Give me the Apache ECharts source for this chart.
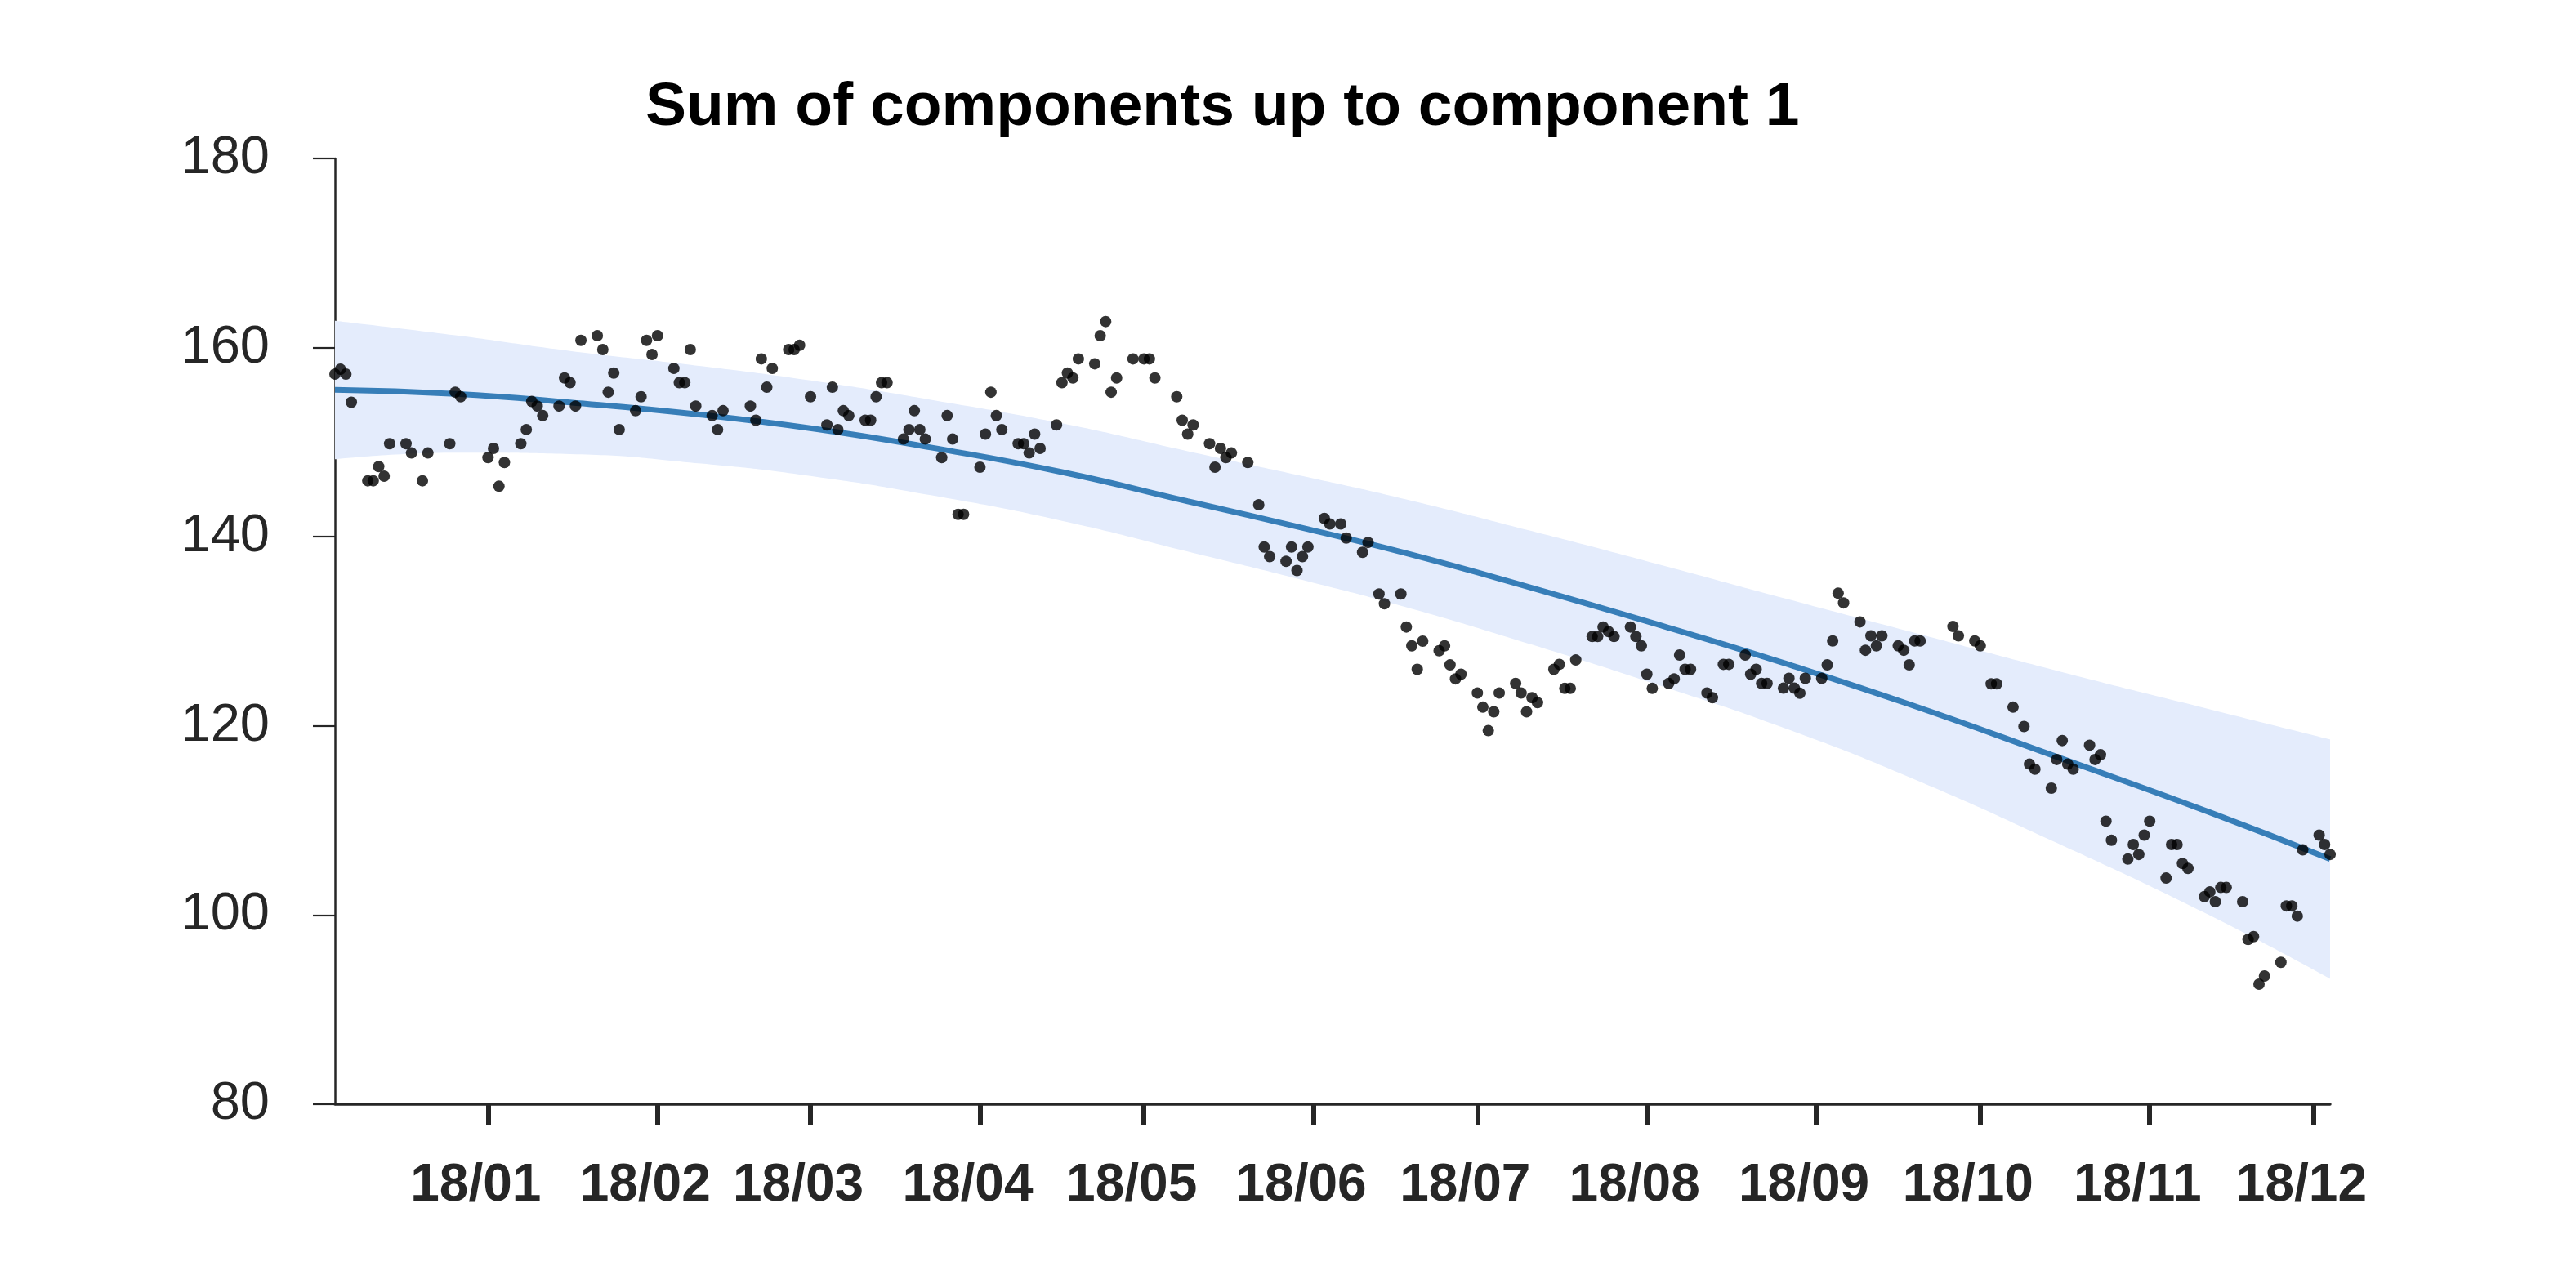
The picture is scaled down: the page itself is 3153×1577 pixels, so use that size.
<!DOCTYPE html>
<html>
<head>
<meta charset="utf-8">
<script src="https://cdn.jsdelivr.net/npm/echarts@6/dist/echarts.min.js"></script>
<style>
html,body{margin:0;padding:0;background:#fff;}
#chart{width:3153px;height:1577px;}
</style>
</head>
<body>
<div id="chart"></div>
<script>
// Day offsets from 2018-01-01 (as placed on the time axis) and observed values
const dayOffsets = [
-28,-27,-26,-25,-22,-21,-20,-19,-18,-15,-14,-12,-11,-7,-6,-5,
0,1,2,3,6,7,8,9,10,13,14,15,16,17,20,21,22,23,24,27,28,29,30,31,
34,35,36,37,38,41,42,43,48,49,50,51,52,55,56,57,59,
62,63,64,65,66,69,70,71,72,73,76,77,78,79,80,83,84,85,86,87,
90,91,92,93,94,97,98,99,100,101,104,105,106,107,108,111,112,113,114,115,118,
120,121,122,126,127,128,129,132,133,134,135,136,139,141,142,143,146,147,148,149,
150,153,154,156,157,160,161,163,164,167,168,169,170,171,174,175,176,177,178,
181,182,183,184,185,188,189,190,191,192,195,196,197,198,199,202,203,204,205,206,209,210,
211,212,213,216,217,218,219,220,223,224,226,227,230,231,232,233,234,237,238,239,240,241,
244,245,246,247,248,251,252,253,254,255,258,259,260,261,262,268,269,
272,273,275,276,279,281,282,283,286,287,288,289,290,293,294,295,296,297,300,301,302,
303,304,307,308,309,310,311,314,315,316,317,318,321,322,323,324,325,328,329,330,331,332,
335,336,337
];
const observed = [
157.2,157.71,157.2,154.22,145.92,145.92,147.42,146.41,149.84,149.84,148.86,145.92,148.86,149.84,155.29,154.8,
148.37,149.35,145.34,147.85,149.84,151.34,154.31,153.82,152.81,153.82,156.79,156.3,153.82,160.77,161.26,159.79,155.29,157.31,151.34,153.33,154.8,160.77,159.27,161.26,
157.8,156.3,156.3,159.79,153.82,152.81,151.34,153.33,153.82,152.32,158.81,155.81,157.8,159.79,159.79,160.25,154.8,
151.83,155.81,151.34,153.33,152.81,152.32,152.32,154.8,156.3,156.3,150.33,151.34,153.33,151.34,150.33,148.37,152.81,150.33,142.37,142.37,
147.36,150.85,155.29,152.81,151.34,149.84,149.84,148.86,150.85,149.35,151.83,156.3,157.31,156.79,158.81,158.29,161.26,162.76,155.29,156.79,158.81,
158.81,158.81,156.79,154.8,152.32,150.85,151.83,149.84,147.36,149.35,148.37,148.86,147.85,143.38,138.91,137.9,137.41,138.91,136.43,137.9,
138.91,141.94,141.36,141.36,139.86,138.36,139.4,133.95,132.91,133.95,130.46,128.47,125.99,128.96,127.95,128.47,126.45,124.98,125.47,
123.48,121.98,119.5,121.5,123.48,124.49,123.48,121.5,122.99,122.47,125.99,126.51,123.97,123.97,126.97,129.45,129.45,130.46,129.97,129.45,130.46,129.45,
128.47,125.47,123.97,124.49,124.98,127.49,125.99,125.99,123.48,122.99,126.51,126.51,127.49,125.47,125.99,124.49,124.49,123.99,125.04,123.99,123.46,125.04,
125.04,126.46,128.99,134.03,133.01,131.0,128.0,129.52,128.47,129.52,128.47,128.0,126.46,128.99,128.99,130.51,129.52,
128.99,128.47,124.45,124.45,121.98,119.94,115.96,115.43,113.42,116.45,118.46,115.96,115.43,117.96,116.45,116.95,109.93,107.92,105.92,107.46,106.41,
108.45,109.93,103.91,107.46,107.46,105.45,104.93,101.96,102.46,101.41,102.92,102.92,101.41,97.42,97.73,92.69,93.56,95.01,100.97,100.97,99.89,106.9,
108.45,107.46,106.41
];
// Fitted component and its interval, read at sample days
const fitDays  = [-28, -6, 15, 39, 60, 81, 105, 128, 150, 168, 191, 215, 237, 260, 287, 315, 337];
const fitMean  = [155.55,155.11,154.2,152.9,151.4,149.44,146.84,143.75,140.8,138.25,134.59,130.55,126.66,122.29,116.73,110.86,105.92];
const fitUpper = [162.84,161.3,159.65,158.05,156.45,154.49,151.99,149.05,146.3,143.95,140.59,136.95,133.51,129.99,125.83,121.76,118.58];
const fitLower = [148.2,148.9,148.75,147.75,146.35,144.39,141.69,138.45,135.3,132.55,128.59,124.15,119.81,114.59,107.63,99.96,93.26];
const monthTickLabels = ['18/01','18/02','18/03','18/04','18/05','18/06','18/07','18/08','18/09','18/10','18/11','18/12'];
const yTicks = [80, 100, 120, 140, 160, 180];
const titleText = 'Sum of components up to component 1';

const DAY = 86400000;
const base = Date.UTC(2018, 0, 1);
const t = d => base + d * DAY;

const scatterData = dayOffsets.map((d, i) => [t(d), observed[i]]);
const meanData = fitDays.map((d, i) => [t(d), fitMean[i]]);
const lowerData = fitDays.map((d, i) => [t(d), fitLower[i]]);
const bandData = fitDays.map((d, i) => [t(d), fitUpper[i] - fitLower[i]]);

const axisColor = '#262626';
const font = 'Liberation Sans, Arial, Helvetica, sans-serif';

const chart = echarts.init(document.getElementById('chart'), null, {renderer: 'canvas'});
chart.setOption({
  animation: false,
  useUTC: true,
  backgroundColor: '#ffffff',
  title: {
    text: titleText,
    left: 785,
    top: 90,
    textStyle: {fontFamily: font, fontWeight: 'bold', fontSize: 75, color: '#000'}
  },
  grid: {left: 410, right: 301, top: 194, bottom: 225, containLabel: false},
  xAxis: {
    type: 'time',
    min: t(fitDays[0]),
    max: t(fitDays[fitDays.length - 1]),
    splitNumber: 12,
    minInterval: 28 * DAY,
    maxInterval: 31 * DAY,
    axisLine: {lineStyle: {color: axisColor, width: 3.5}},
    axisTick: {show: true, length: 25, lineStyle: {color: axisColor, width: 6}},
    splitLine: {show: false},
    axisLabel: {
      showMinLabel: false,
      showMaxLabel: false,
      margin: 68,
      color: axisColor,
      fontFamily: font,
      fontWeight: 'bold',
      fontSize: 64,
      padding: [0, 30, 0, 0],
      hideOverlap: false,
      formatter: function (val) {
        const d = new Date(val);
        return monthTickLabels[d.getUTCMonth()];
      }
    }
  },
  yAxis: {
    type: 'value',
    min: yTicks[0],
    max: yTicks[yTicks.length - 1],
    interval: 20,
    axisLine: {show: true, lineStyle: {color: axisColor, width: 2.5}},
    axisTick: {show: true, length: 27, lineStyle: {color: axisColor, width: 2.2}},
    splitLine: {show: false},
    axisLabel: {margin: 80, color: axisColor, fontFamily: font, fontSize: 65}
  },
  series: [
    {
      type: 'line', data: lowerData, stack: 'band', smooth: 0.5,
      symbol: 'none', lineStyle: {opacity: 0}, silent: true, z: 1
    },
    {
      type: 'line', data: bandData, stack: 'band', smooth: 0.5,
      symbol: 'none', lineStyle: {opacity: 0},
      areaStyle: {color: '#e4ecfc', opacity: 1}, silent: true, z: 1
    },
    {
      type: 'line', data: meanData, smooth: 0.5, symbol: 'none',
      lineStyle: {color: '#377eb8', width: 7}, z: 2
    },
    {
      type: 'scatter', data: scatterData, symbol: 'circle', symbolSize: 14,
      itemStyle: {color: '#000000'}, z: 3
    }
  ]
});
</script>
</body>
</html>
